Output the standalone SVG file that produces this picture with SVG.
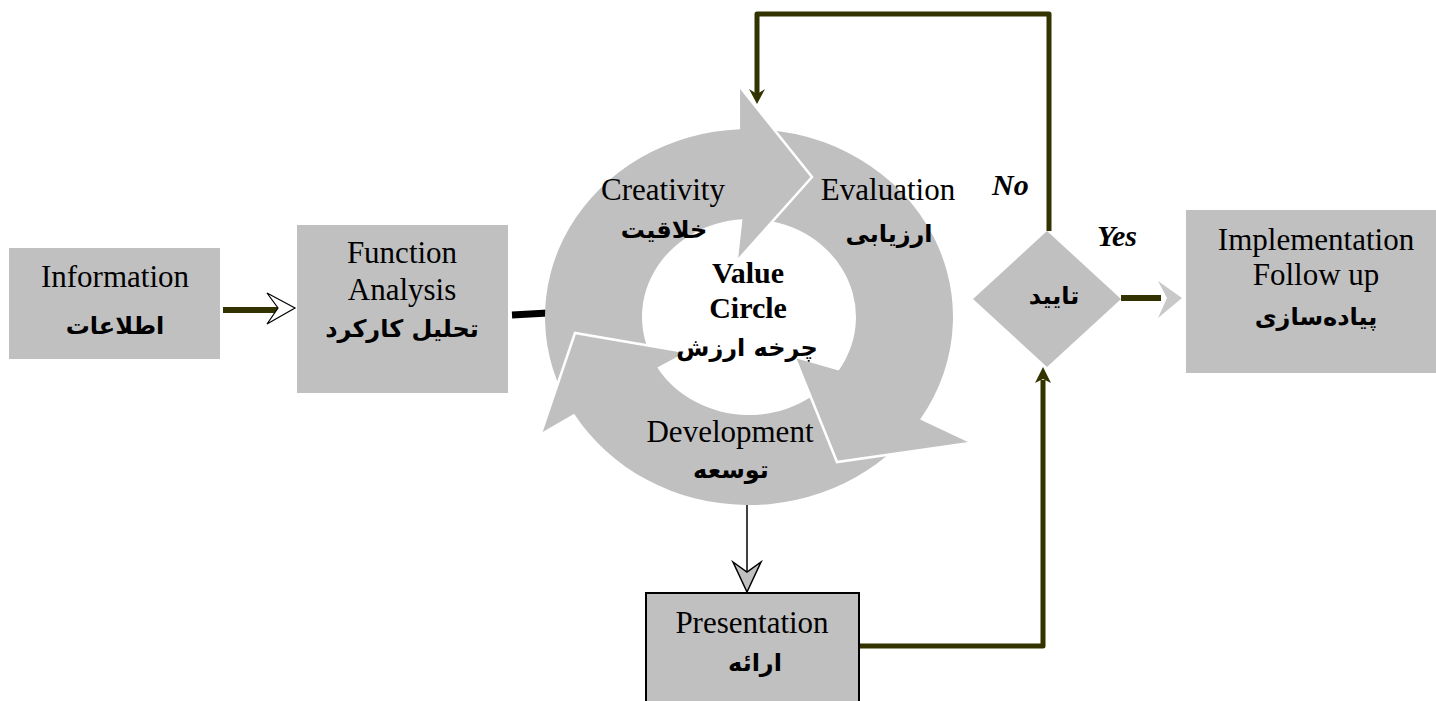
<svg xmlns="http://www.w3.org/2000/svg" width="1436" height="701" viewBox="0 0 1436 701">
<style>
.box{fill:#c0c0c0;}
.ring{fill:#c0c0c0;}
.edge{fill:none;stroke:#ffffff;stroke-width:2.5;stroke-linejoin:miter;}
.en{font-family:"Liberation Serif","Times New Roman",serif;font-size:31px;fill:#000;text-anchor:middle;}
.enb{font-family:"Liberation Serif","Times New Roman",serif;font-size:30px;font-weight:bold;fill:#000;text-anchor:middle;}
.lbl{font-family:"Liberation Serif","Times New Roman",serif;font-size:30px;font-weight:bold;font-style:italic;fill:#000;}
.fa{font-family:"DejaVu Sans",sans-serif;font-size:24px;font-weight:bold;fill:#000;text-anchor:middle;}
.olive{fill:none;stroke:#333300;stroke-linejoin:round;}
</style>
<rect width="1436" height="701" fill="#ffffff"/>

<g id="connectors">
  <!-- Information -> Function Analysis -->
  <line x1="223" y1="310" x2="279" y2="310" class="olive" stroke-width="6"/>
  <polygon points="267,293 295,308 267,324 278,308" fill="#ffffff" stroke="#000" stroke-width="1.2"/>
  <!-- Function Analysis -> Value circle -->
  <line x1="512" y1="315" x2="548" y2="313" stroke="#000" stroke-width="7"/>
  <!-- Value circle -> Presentation -->
  <line x1="747" y1="503" x2="747" y2="574" stroke="#000" stroke-width="1.5"/>
  <polygon points="733,562 747,572 761,562 747,592" fill="#c0c0c0" stroke="#000" stroke-width="1.5" stroke-linejoin="miter"/>
  <!-- Presentation -> Decision -->
  <polyline points="859,646 1043,646 1043,380" class="olive" stroke-width="5"/>
  <polygon points="1035,383 1043,367 1051,383 1043,379" fill="#333300"/>
  <!-- Decision No -> loop back to circle -->
  <polyline points="1049,231 1049,14 757,14 757,94" class="olive" stroke-width="5"/>
  <polygon points="749,89 757,104 765,89 757,94" fill="#333300"/>
  <!-- Decision Yes -> Implementation -->
  <line x1="1121" y1="298" x2="1161" y2="298" class="olive" stroke-width="6"/>
  <polygon points="1158,281 1182,298 1158,318 1167,298" fill="#c8c8c8"/>
  <text x="992" y="195" class="lbl">No</text>
  <text x="1097" y="246" class="lbl">Yes</text>
</g>

<g id="information">
  <rect x="9" y="248" width="211" height="111" class="box"/>
  <text x="115" y="287" class="en">Information</text>
  <text x="115" y="334" class="fa">اطلاعات</text>
</g>

<g id="function-analysis">
  <rect x="297" y="225" width="211" height="168" class="box"/>
  <text x="402" y="263" class="en">Function</text>
  <text x="402" y="300" class="en">Analysis</text>
  <text x="402" y="337" class="fa">تحلیل کارکرد</text>
</g>

<g id="value-circle">
  <path id="arrow-creativity" class="ring" d="M 574.1 413.8 A 204 188 0 0 1 740.1 129.2 L 740 87 L 812 177 L 738 260 L 742.5 219.2 A 107 98 0 0 0 657.3 367.5 Z"/>
  <path id="arrow-evaluation" class="ring" d="M 740.1 129.2 A 204 188 0 0 1 920.1 419.4 L 970 443 L 837 462 L 795 358 L 838.7 370.4 A 107 98 0 0 0 742.5 219.2 Z"/>
  <path id="arrow-development" class="ring" d="M 920.1 419.4 A 204 188 0 0 1 574.1 413.8 L 541 433 L 575 333 L 686 352 L 657.3 367.5 A 107 98 0 0 0 838.7 370.4 Z"/>
  <polyline class="edge" points="740,87 812,177 738,260"/>
  <polyline class="edge" points="970,443 837,462 795,358"/>
  <polyline class="edge" points="541,433 575,333 686,352"/>
  <text x="663" y="200" class="en">Creativity</text>
  <text x="664" y="238" class="fa">خلاقیت</text>
  <text x="888" y="200" class="en">Evaluation</text>
  <text x="889" y="242" class="fa">ارزیابی</text>
  <text x="748" y="283" class="enb">Value</text>
  <text x="748" y="318" class="enb">Circle</text>
  <text x="747" y="356" class="fa">چرخه ارزش</text>
  <text x="730" y="442" class="en">Development</text>
  <text x="731" y="478" class="fa">توسعه</text>
</g>

<g id="presentation">
  <rect x="646" y="593" width="213" height="120" class="box" stroke="#000" stroke-width="2"/>
  <text x="752" y="633" class="en">Presentation</text>
  <text x="755" y="671" class="fa">ارائه</text>
</g>

<g id="decision">
  <polygon points="1047,231 1121,299 1047,367 973,299" class="box"/>
  <text x="1054" y="304" class="fa">تایید</text>
</g>

<g id="implementation">
  <rect x="1186" y="210" width="250" height="163" class="box"/>
  <text x="1316" y="250" class="en">Implementation</text>
  <text x="1316" y="285" class="en">Follow up</text>
  <text x="1316" y="325" class="fa">پیاده‌سازی</text>
</g>
</svg>
